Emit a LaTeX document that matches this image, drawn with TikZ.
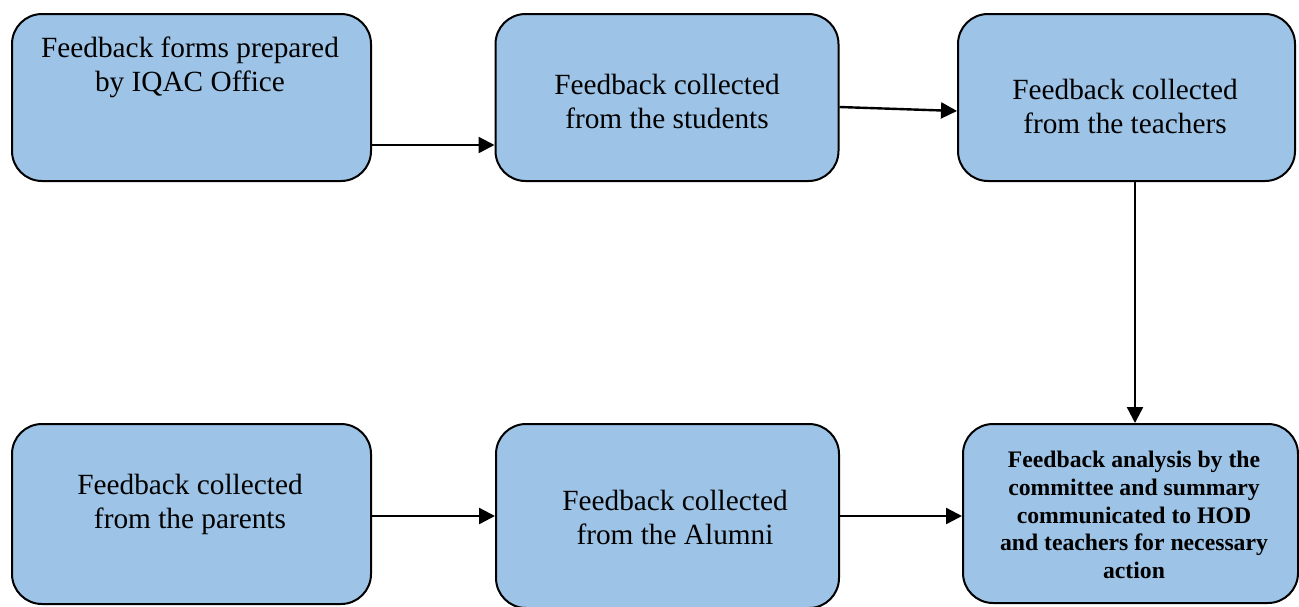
\documentclass[tikz,border=0pt]{standalone}
\usepackage{fontspec}
\setmainfont{Liberation Serif}
\usetikzlibrary{arrows.meta}
\definecolor{boxblue}{HTML}{9DC3E6}
\tikzset{
  box/.style={draw=black, fill=boxblue, line width=2pt, rounded corners=30pt, inner sep=0pt},
  txt/.style={align=center, inner sep=0pt, font=\fontsize{29.3}{34}\selectfont},
  btxt/.style={align=center, inner sep=0pt, font=\fontsize{23.7}{27.6}\selectfont\bfseries},
  arr/.style={line width=2.4pt, -{Triangle[length=16pt,width=16pt]}}
}
\begin{document}
\begin{tikzpicture}[x=1pt,y=-1pt]
\useasboundingbox (0,0) rectangle (1299,606);
\fill[white] (0,0) rectangle (1299,606);
% boxes
\node[box, minimum width=359pt, minimum height=167pt] (b1) at (191.5,97.5) {};
\node[box, minimum width=343pt, minimum height=167pt] (b2) at (667,97.5) {};
\node[box, minimum width=337pt, minimum height=167pt] (b3) at (1126.5,97.5) {};
\node[box, minimum width=359pt, minimum height=180pt] (b4) at (191.5,514) {};
\node[box, minimum width=343pt, minimum height=184pt] (b5) at (667.5,516) {};
\node[box, minimum width=335pt, minimum height=179pt] (b6) at (1130.5,513.5) {};
% texts
\node[txt] (t1) at (190,67) {Feedback forms prepared\\by IQAC Office};
\node[txt] (t2) at (667,101) {Feedback collected\\from the students};
\node[txt] (t3) at (1125,106) {Feedback collected\\from the teachers};
\node[txt] (t4) at (190,504) {Feedback collected\\from the parents};
\node[txt] (t5) at (675,517) {Feedback collected\\from the Alumni};
\node[btxt] (t6) at (1134,515) {Feedback analysis by the\\committee and summary\\communicated to HOD\\and teachers for necessary\\action};
% connectors
\draw[arr] ([yshift=-47.5pt]b1.east) -- ([yshift=-47.5pt]b2.west);
\draw[arr] ([yshift=-9.5pt]b2.east) -- ([yshift=-13.5pt]b3.west);
\draw[arr] ([xshift=8.5pt]b3.south) -- ([xshift=4.5pt]b6.north);
\draw[arr] ([yshift=-2pt]b4.east) -- (b5.west);
\draw[arr] (b5.east) -- ([yshift=-2.5pt]b6.west);
\end{tikzpicture}
\end{document}
